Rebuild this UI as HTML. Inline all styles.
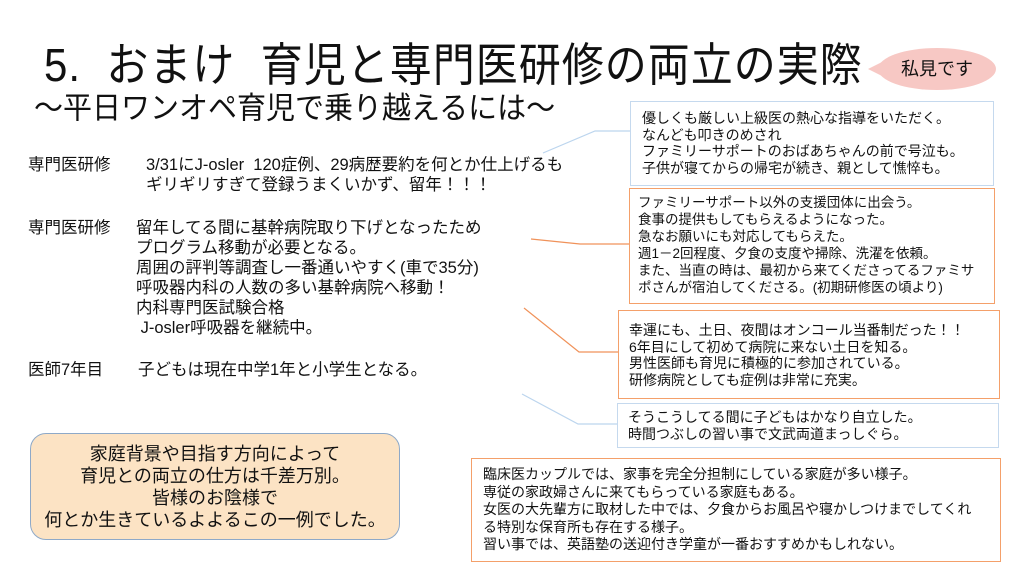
<!DOCTYPE html>
<html><head><meta charset="utf-8"><style>
body{margin:0;width:1024px;height:576px;background:#fff;position:relative;overflow:hidden;font-family:"Liberation Sans","Noto Sans CJK JP",sans-serif;color:#111}
.a{position:absolute;white-space:nowrap}
.box{position:absolute;box-sizing:border-box;font-size:14px;line-height:16.5px;padding:0 0 0 11px;white-space:nowrap}
.o{border:1.5px solid #f4a06a}
.b{border:1.5px solid #c5d9ee}
.l{font-size:16.5px;line-height:20px}
</style></head><body>
<div class="a" style="left:44px;top:28px;font-size:42px;transform:scaleY(1.1);transform-origin:left top;letter-spacing:1px">5.&nbsp;&nbsp;おまけ&nbsp;&nbsp;育児と専門医研修の両立の実際</div>
<div class="a" style="left:34px;top:84px;font-size:29px;transform:scaleY(1.05);transform-origin:left top">〜平日ワンオペ育児で乗り越えるには〜</div>
<div class="a" style="left:878px;top:48px;width:118px;height:42px;border-radius:50%;background:#f7c8c4;font-size:18px;line-height:42px;text-align:center">私見です</div>
<div class="a" style="left:868px;top:62px;width:0;height:0;border-top:7px solid transparent;border-bottom:7px solid transparent;border-right:14px solid #f7c8c4"></div>

<div class="a l" style="left:28px;top:155px">専門医研修</div>
<div class="a l" style="left:146px;top:155px">3/31にJ-osler&nbsp;&nbsp;120症例、29病歴要約を何とか仕上げるも<br>ギリギリすぎて登録うまくいかず、留年！！！</div>
<div class="a l" style="left:28px;top:218px">専門医研修</div>
<div class="a l" style="left:136px;top:218px">留年してる間に基幹病院取り下げとなったため<br>プログラム移動が必要となる。<br>周囲の評判等調査し一番通いやすく(車で35分)<br>呼吸器内科の人数の多い基幹病院へ移動！<br>内科専門医試験合格<br>&nbsp;J-osler呼吸器を継続中。</div>
<div class="a l" style="left:28px;top:360px">医師7年目</div>
<div class="a l" style="left:138px;top:360px">子どもは現在中学1年と小学生となる。</div>

<svg class="a" style="left:0;top:0" width="1024" height="576">
<polyline points="543,153 595,131 630,131" fill="none" stroke="#bcd5ee" stroke-width="1.2"/>
<polyline points="531,239 580,244 629,244" fill="none" stroke="#f0925a" stroke-width="1.2"/>
<polyline points="524,308 579,352 618,352" fill="none" stroke="#f0925a" stroke-width="1.2"/>
<polyline points="522,394 578,424 617,424" fill="none" stroke="#bcd5ee" stroke-width="1.2"/>
</svg>

<div class="box b" style="left:630px;top:101px;width:364px;height:85px;padding-top:8px">優しくも厳しい上級医の熱心な指導をいただく。<br>なんども叩きのめされ<br>ファミリーサポートのおばあちゃんの前で号泣も。<br>子供が寝てからの帰宅が続き、親として憔悴も。</div>
<div class="box o" style="left:629px;top:188px;width:366px;height:116px;padding-top:5px;padding-left:8px;font-size:13.5px;line-height:17px">ファミリーサポート以外の支援団体に出会う。<br>食事の提供もしてもらえるようになった。<br>急なお願いにも対応してもらえた。<br>週1－2回程度、夕食の支度や掃除、洗濯を依頼。<br>また、当直の時は、最初から来てくださってるファミサ<br>ポさんが宿泊してくださる。(初期研修医の頃より)</div>
<div class="box o" style="left:618px;top:310px;width:382px;height:89px;padding-top:11px;padding-left:10px">幸運にも、土日、夜間はオンコール当番制だった！！<br>6年目にして初めて病院に来ない土日を知る。<br>男性医師も育児に積極的に参加されている。<br>研修病院としても症例は非常に充実。</div>
<div class="box b" style="left:617px;top:403px;width:382px;height:45px;padding-top:5px;padding-left:10px">そうこうしてる間に子どもはかなり自立した。<br>時間つぶしの習い事で文武両道まっしぐら。</div>
<div class="box o" style="left:471px;top:458px;width:530px;height:104px;padding-top:7px;padding-left:11px;line-height:17.5px">臨床医カップルでは、家事を完全分担制にしている家庭が多い様子。<br>専従の家政婦さんに来てもらっている家庭もある。<br>女医の大先輩方に取材した中では、夕食からお風呂や寝かしつけまでしてくれ<br>る特別な保育所も存在する様子。<br>習い事では、英語塾の送迎付き学童が一番おすすめかもしれない。</div>

<div class="a" style="left:30px;top:433px;width:370px;height:107px;box-sizing:border-box;border:1.5px solid #8ea9c8;border-radius:16px;background:#fce3c4;font-size:18px;line-height:22px;text-align:center;padding-top:9px">家庭背景や目指す方向によって<br>育児との両立の仕方は千差万別。<br>皆様のお陰様で<br>何とか生きているよよるこの一例でした。</div>
</body></html>
